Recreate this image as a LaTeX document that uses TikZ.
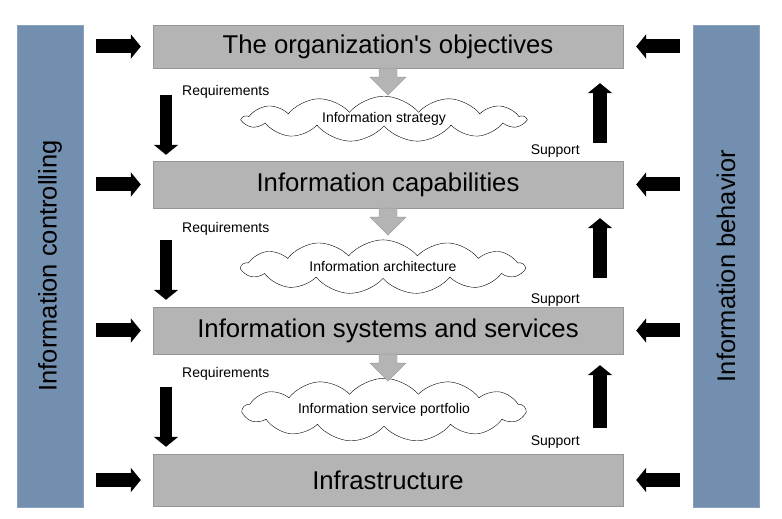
\documentclass[tikz,border=0pt]{standalone}
\usepackage{fontspec}
\setmainfont{Liberation Sans}[Ligatures=TeXOff]
\usepackage{tikz}
\usetikzlibrary{calc,shapes.symbols,arrows.meta}
\definecolor{barblue}{RGB}{115,143,175}
\definecolor{boxgray}{RGB}{180,180,180}
\definecolor{edgegray}{RGB}{150,150,150}
\tikzstyle{sidebar} = [rectangle, rotate=90, minimum width=482pt, minimum height=66pt, text centered, draw=barblue!85!white, fill=barblue, font=\fontsize{25.5}{30}\selectfont]
\tikzstyle{level} = [rectangle, minimum width=470pt, minimum height=47pt, text centered, draw=edgegray, fill=boxgray, font=\fontsize{25.7}{30}\selectfont]
\tikzstyle{idea} = [cloud, cloud puffs=13, cloud puff arc=100, aspect=6.5, minimum width=282pt, minimum height=38pt, inner sep=0pt, draw=black, fill=white, font=\fontsize{14}{16}\selectfont]
\tikzstyle{small} = [inner sep=0pt, font=\fontsize{14}{16}\selectfont]
\tikzstyle{blockarrow} = [line width=14pt, -{Triangle[width=24pt,length=10pt]}]
\tikzstyle{flow} = [fill=boxgray, draw=edgegray]

\begin{document}
\begin{tikzpicture}[x=1pt,y=1pt]
\useasboundingbox (0,0) rectangle (782,519);
\node (ctrl) [sidebar] at (50,253) {Information controlling};
\node (beh) [sidebar] at (726,253) {Information behavior};
\node (obj) [level, minimum height=43pt] at (388,472.5) {The organization's objectives};
\node (capab) [level] at (388,334.5) {Information capabilities};
\node (syst) [level] at (388,188.5) {Information systems and services};
\node (infra) [level, minimum height=52pt] at (388,39) {Infrastructure};
\node (strat) [idea] at (384,400) {Information strategy};
\node (arch) [idea] at (383,252) {Information architecture};
\node (port) [idea] at (384,109) {Information service portfolio};
\coordinate (req) at (166,0);
\coordinate (sup) at (600,0);
\node (req1) [small, anchor=base west] at (182,423) {Requirements};
\node (req2) [small, anchor=base west] at (182,286) {Requirements};
\node (req3) [small, anchor=base west] at (182,141) {Requirements};
\node (sup1) [small, anchor=base east] at (580,364) {Support};
\node (sup2) [small, anchor=base east] at (580,215) {Support};
\node (sup3) [small, anchor=base east] at (580,73) {Support};

% control and behaviour arrows
\draw [blockarrow, shorten <=13pt, shorten >=12pt] (ctrl.south |- obj) -- (obj.west);
\draw [blockarrow, shorten <=13pt, shorten >=12pt] (ctrl.south |- capab) -- (capab.west);
\draw [blockarrow, shorten <=13pt, shorten >=12pt] (ctrl.south |- syst) -- (syst.west);
\draw [blockarrow, shorten <=13pt, shorten >=12pt] (ctrl.south |- infra) -- (infra.west);
\draw [blockarrow, shorten <=13pt, shorten >=13pt] (beh.north |- obj) -- (obj.east);
\draw [blockarrow, shorten <=13pt, shorten >=13pt] (beh.north |- capab) -- (capab.east);
\draw [blockarrow, shorten <=13pt, shorten >=13pt] (beh.north |- syst) -- (syst.east);
\draw [blockarrow, shorten <=13pt, shorten >=13pt] (beh.north |- infra) -- (infra.east);

% requirements down, support up
\draw [blockarrow, line width=12pt, shorten <=27pt, shorten >=6pt] (obj.south -| req) -- (capab.north -| req);
\draw [blockarrow, line width=12pt, shorten <=32pt, shorten >=7pt] (capab.south -| req) -- (syst.north -| req);
\draw [blockarrow, line width=12pt, shorten <=33pt, shorten >=7pt] (syst.south -| req) -- (infra.north -| req);
\draw [blockarrow, shorten <=18pt, shorten >=15pt] (capab.north -| sup) -- (obj.south -| sup);
\draw [blockarrow, shorten <=29pt, shorten >=10pt] (syst.north -| sup) -- (capab.south -| sup);
\draw [blockarrow, shorten <=26pt, shorten >=11pt] (infra.north -| sup) -- (syst.south -| sup);

% gray arrows into the clouds
\draw [flow] (obj.south) ++(-9,0) -- ++(0,-9) -- ++(-9,0) -- ++(18,-18) -- ++(18,18) -- ++(-9,0) -- ++(0,9) -- cycle;
\draw [flow] (capab.south) ++(-9,0) -- ++(0,-9) -- ++(-9,0) -- ++(18,-18) -- ++(18,18) -- ++(-9,0) -- ++(0,9) -- cycle;
\draw [flow] (syst.south) ++(-9,0) -- ++(0,-9) -- ++(-9,0) -- ++(18,-18) -- ++(18,18) -- ++(-9,0) -- ++(0,9) -- cycle;

\end{tikzpicture}
\end{document}
